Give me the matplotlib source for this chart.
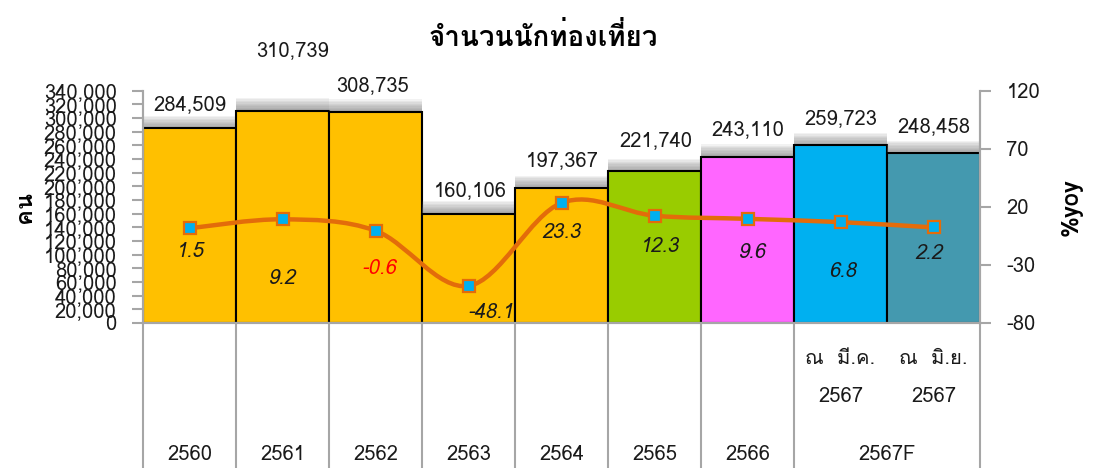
import numpy as np
import matplotlib
matplotlib.use("Agg")
import matplotlib.pyplot as plt
import matplotlib.patheffects as pe
from matplotlib import font_manager, ft2font
from matplotlib.path import Path
from matplotlib.patches import PathPatch
from matplotlib.ticker import MultipleLocator, FixedLocator, FuncFormatter
import matplotlib.transforms as mtrans

# ---- data ----
years = ["2560", "2561", "2562", "2563", "2564", "2565", "2566", "2567a", "2567b"]
outer_labels = ["2560", "2561", "2562", "2563", "2564", "2565", "2566", "2567F"]
inner_month = ["ณ  มี.ค.", "ณ  มิ.ย."]
inner_year = ["2567", "2567"]
visitors = [284509, 310739, 308735, 160106, 197367, 221740, 243110, 259723, 248458]
yoy = [1.5, 9.2, -0.6, -48.1, 23.3, 12.3, 9.6, 6.8, 2.2]
yoy_ticks = [-80, -30, 20, 70, 120]

BAR_COLORS = ["#FFC000"] * 5 + ["#99CC00", "#FF66FF", "#00B0F0", "#4499AF"]
LINE_COLOR = "#E36C0A"
MARKER_FACE = "#00B0F0"
AXIS_GRAY = "#A6A6A6"
TXT = "#1a1a1a"
FS = 14.5

# label offsets (pixels) -- placed by hand in the original
VAL_OFF = [(0, 24), (10, 60), (-3, 26), (2, 23), (1, 27), (1, 31), (0, 27), (0, 27), (0, 27)]
YOY_OFF = [(0, -23), (0, -59), (3, -38), (22, -27), (0, -30), (5, -31), (5, -34), (2, -49), (-5, -26)]


# Thai font lookup (fallback DejaVu)
def find_thai_font():
    names = []
    for f in font_manager.fontManager.ttflist:
        try:
            cmap = ft2font.FT2Font(f.fname).get_charmap()
        except Exception:
            continue
        if 0x0E08 in cmap and f.name not in names:
            names.append(f.name)
    return names


thai = find_thai_font()
plt.rcParams["font.family"] = thai[:1] + ["DejaVu Sans"]
plt.rcParams["axes.unicode_minus"] = False

fig = plt.figure(figsize=(10.94, 4.68), dpi=100)
ax = fig.add_axes([143 / 1094, 1 - 323 / 468, (980 - 143) / 1094, (323 - 90.5) / 468])
ax2 = ax.twinx()
ax.set_zorder(1)
ax2.set_zorder(2)

x = np.arange(len(years))

shadow = [pe.SimplePatchShadow(offset=(0, k), shadow_rgbFace="#707070", alpha=0.09) for k in range(1, 10)]
bars = ax.bar(x, visitors, width=1.0, color=BAR_COLORS, edgecolor="black", linewidth=1.5)
for b in bars:
    b.set_path_effects(shadow + [pe.Normal()])

ax.set_xlim(-0.5, len(years) - 0.5)
ax.set_ylim(0, 340000)
ax.yaxis.set_major_locator(MultipleLocator(20000))
ax.yaxis.set_major_formatter(FuncFormatter(lambda v, p: f"{int(v):,}"))
ax.set_xticks([])

ax2.set_ylim(yoy_ticks[0], yoy_ticks[-1])
ax2.yaxis.set_major_locator(FixedLocator(yoy_ticks))

for a in (ax, ax2):
    for s in a.spines.values():
        s.set_color(AXIS_GRAY)
        s.set_linewidth(1.5)
    a.spines["top"].set_visible(False)
    a.tick_params(axis="y", colors=AXIS_GRAY, labelcolor=TXT, length=8, width=1.5,
                  labelsize=FS, pad=11)

# value labels
for xi, v, off in zip(x, visitors, VAL_OFF):
    ax.annotate(f"{v:,}", (xi, v), xytext=off, textcoords="offset pixels",
                ha="center", va="center", fontsize=FS, color=TXT)

# smooth yoy line (Catmull-Rom -> bezier)
pts = np.column_stack([x, yoy]).astype(float)
ext = np.vstack([pts[0], pts, pts[-1]])
verts = [pts[0]]
codes = [Path.MOVETO]
for i in range(len(pts) - 1):
    p0, p1, p2, p3 = ext[i], ext[i + 1], ext[i + 2], ext[i + 3]
    verts += [p1 + (p2 - p0) / 6, p2 - (p3 - p1) / 6, p2]
    codes += [Path.CURVE4] * 3
ax2.add_patch(PathPatch(Path(verts, codes), fill=False, edgecolor=LINE_COLOR, linewidth=3.2,
                        capstyle="round", joinstyle="round"))
ax2.plot(x, yoy, ls="none", marker="s", markersize=8, markerfacecolor=MARKER_FACE,
         markeredgecolor=LINE_COLOR, markeredgewidth=1.6)

for xi, v, off in zip(x, yoy, YOY_OFF):
    ax2.annotate(f"{v}", (xi, v), xytext=off, textcoords="offset pixels", ha="center",
                 va="center", fontsize=FS, style="italic",
                 color="#FF0000" if -10 < v < 0 else TXT)

ax.set_ylabel("คน", fontsize=17, fontweight="bold")
ax2.set_ylabel("%yoy", fontsize=17, fontweight="bold", rotation=90)
ax.yaxis.set_label_coords(-0.128, 0.5)
ax2.yaxis.set_label_coords(1.095, 0.5)
fig.text(543 / 1094, 1 - 37 / 468, "จำนวนนักท่องเที่ยว", ha="center", va="center",
         fontsize=20, fontweight="bold")

# multi-level category axis
tr = mtrans.blended_transform_factory(ax.transData, ax.transAxes)
bottom = -(468 - 323) / 232.5
bounds = [i - 0.5 for i in range(len(years) + 1) if i != len(years) - 1]
for bx in bounds:
    ax.plot([bx, bx], [0, bottom], transform=tr, color=AXIS_GRAY, lw=1.5, clip_on=False)

y_outer = -(455 - 323) / 232.5
for i, lab in enumerate(outer_labels[:-1]):
    ax.text(i, y_outer, lab, transform=tr, ha="center", va="center", fontsize=FS, color=TXT)
ax.text(len(years) - 1.5, y_outer, outer_labels[-1], transform=tr, ha="center", va="center",
        fontsize=FS, color=TXT)
for j, (m, yr) in enumerate(zip(inner_month, inner_year)):
    xi = len(years) - 2 + j
    ax.text(xi, -(359 - 323) / 232.5, m, transform=tr, ha="center", va="center",
            fontsize=FS, color=TXT)
    ax.text(xi, -(397 - 323) / 232.5, yr, transform=tr, ha="center", va="center",
            fontsize=FS, color=TXT)

fig.savefig("out.png", dpi=100)
